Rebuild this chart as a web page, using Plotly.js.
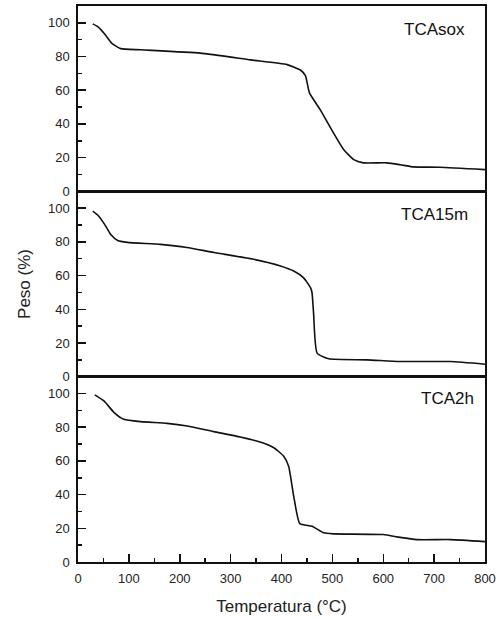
<!DOCTYPE html>
<html>
<head>
<meta charset="utf-8">
<script src="https://cdn.plot.ly/plotly-3.0.1.min.js"></script>
<style>html,body{margin:0;padding:0;background:#fff;}#chart{width:503px;height:618px;}</style>
</head>
<body>
<div id="chart"></div>
<script>
// TCAsox (top panel)
const tSox = [29, 40, 52, 66, 84, 123, 240, 339, 411, 437, 447, 455, 476, 502, 522, 542, 561, 607, 633, 659, 711, 800];
const wSox = [99.4, 97.5, 93.5, 88, 84.7, 84, 82, 78, 75.2, 72, 68.7, 58.4, 48.5, 34.7, 24.8, 18.8, 16.9, 16.9, 15.8, 14.5, 14.3, 12.9];
// TCA15m (middle panel)
const t15m = [29, 40, 52, 64, 78, 97, 162, 214, 267, 345, 398, 424, 443, 457, 460, 463, 470, 493, 568, 633, 732, 800];
const w15m = [98.2, 95.5, 90.5, 84.5, 80.8, 79.7, 78.5, 76.7, 73.7, 69.7, 65.7, 62.7, 58.8, 52.8, 49.8, 37.9, 14, 10.6, 10, 9, 9, 7.4];
// TCA2h (bottom panel)
const t2h = [33, 51, 71, 90, 123, 175, 215, 267, 319, 358, 385, 404, 414, 424, 436, 460, 483, 502, 600, 633, 666, 732, 800];
const w2h = [99.2, 95.6, 88.7, 84.7, 83.3, 82.3, 80.7, 77.4, 74.2, 71.2, 67.8, 62.9, 56.9, 39, 22.8, 21.2, 17.3, 16.7, 16.3, 14.6, 13.3, 13.3, 12.1];
const labels = ["TCAsox", "TCA15m", "TCA2h"];

const lineStyle = {color: '#111', width: 1.6, shape: 'spline', smoothing: 0.5};
const traces = [
  {x: tSox, y: wSox, xaxis: 'x3', yaxis: 'y3', mode: 'lines', line: lineStyle, showlegend: false, hoverinfo: 'skip'},
  {x: t15m, y: w15m, xaxis: 'x2', yaxis: 'y2', mode: 'lines', line: lineStyle, showlegend: false, hoverinfo: 'skip'},
  {x: t2h, y: w2h, xaxis: 'x', yaxis: 'y', mode: 'lines', line: lineStyle, showlegend: false, hoverinfo: 'skip'}
];

const fam = 'Liberation Sans, Arial, sans-serif';
const tickFont = {family: fam, size: 13, color: '#222'};
function yax(domain, title) {
  const a = {
    domain: domain, range: [0, 110], tickvals: [0, 20, 40, 60, 80, 100],
    showline: true, linecolor: '#111', linewidth: 1.7, mirror: true,
    ticks: 'inside', ticklen: 8, tickwidth: 1.5, tickcolor: '#111',
    minor: {dtick: 10, ticks: 'inside', ticklen: 4, tickwidth: 1.5, tickcolor: '#111'},
    showgrid: false, zeroline: false, tickfont: tickFont, ticklabelstandoff: 4, fixedrange: true
  };
  if (title) a.title = {text: title, font: {family: fam, size: 17, color: '#222'}, standoff: 13};
  return a;
}
function xax(anchor, showTicks, title) {
  const a = {
    anchor: anchor, range: [0, 800], showline: true, linecolor: '#111', linewidth: 1.7, mirror: true,
    showgrid: false, zeroline: false, fixedrange: true
  };
  if (showTicks) {
    Object.assign(a, {dtick: 100, ticks: 'inside', ticklen: 8, tickwidth: 1.5, tickcolor: '#111',
      minor: {dtick: 50, ticks: 'inside', ticklen: 4, tickwidth: 1.5, tickcolor: '#111'},
      tickfont: tickFont, ticklabelstandoff: 4});
  } else {
    Object.assign(a, {ticks: '', showticklabels: false, matches: 'x'});
  }
  if (title) a.title = {text: title, font: {family: fam, size: 17, color: '#222'}, standoff: 15};
  return a;
}

const annFont = {family: fam, size: 17, color: '#111'};
const layout = {
  width: 503, height: 618,
  margin: {l: 78, r: 18, t: 6, b: 56},
  paper_bgcolor: '#fff', plot_bgcolor: '#fff',
  xaxis: xax('y', true, 'Temperatura (°C)'),
  xaxis2: xax('y2', false),
  xaxis3: xax('y3', false),
  yaxis: yax([0, 0.3333]),
  yaxis2: yax([0.3333, 0.6667], 'Peso (%)'),
  yaxis3: yax([0.6667, 1]),
  annotations: [
    {text: labels[0], xref: 'x3 domain', yref: 'y3 domain', x: 0.955, y: 0.875, xanchor: 'right', yanchor: 'middle', showarrow: false, font: annFont},
    {text: labels[1], xref: 'x2 domain', yref: 'y2 domain', x: 0.963, y: 0.875, xanchor: 'right', yanchor: 'middle', showarrow: false, font: annFont},
    {text: labels[2], xref: 'x domain', yref: 'y domain', x: 0.978, y: 0.88, xanchor: 'right', yanchor: 'middle', showarrow: false, font: annFont}
  ]
};
Plotly.newPlot('chart', traces, layout, {staticPlot: true, displayModeBar: false});
</script>
</body>
</html>
